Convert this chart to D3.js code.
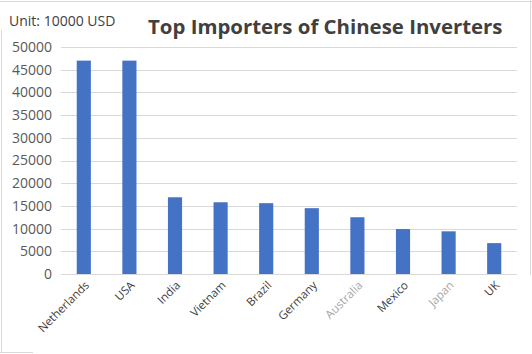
<!DOCTYPE html>
<html>
<head>
<meta charset="utf-8">
<script src="https://cdn.jsdelivr.net/npm/d3@7"></script>
<style>
 body { margin: 0; background: #fff; }
 text { font-family: "Open Sans", "Noto Sans", sans-serif; }
</style>
</head>
<body>
<div id="chart"></div>
<script>
(function(){
 // data (unit: 10000 USD)
 const countries = ["Netherlands", "USA", "India", "Vietnam", "Brazil", "Germany", "Australia", "Mexico", "Japan", "UK"];
 const imports = [47000, 47000, 16900, 15800, 15600, 14500, 12500, 9900, 9400, 6800];
 const yTicks = [0, 5000, 10000, 15000, 20000, 25000, 30000, 35000, 40000, 45000, 50000];
 const lightLabels = ["Australia", "Japan"];

 const width = 532;
 const height = 354;
 const margin = { top: 47, right: 15, bottom: 80, left: 61 };

 const svg = d3.select("#chart")
 .append("svg")
 .attr("width", width)
 .attr("height", height);

 // faint chart border
 const border = svg.append("g").attr("stroke", "#d9d9d9").attr("stroke-width", 1);
 border.append("line").attr("x1", 0).attr("x2", width).attr("y1", 1.5).attr("y2", 1.5);
 border.append("line").attr("x1", 1.5).attr("x2", 1.5).attr("y1", 30).attr("y2", 353);
 border.append("line").attr("x1", 530.5).attr("x2", 530.5).attr("y1", 0).attr("y2", 275);
 border.append("line").attr("x1", 0).attr("x2", 33).attr("y1", 352.5).attr("y2", 352.5);

 const x = d3.scaleBand()
 .domain(countries)
 .range([margin.left, width - margin.right])
 .paddingInner(0.69)
 .paddingOuter(0.345);

 const y = d3.scaleLinear()
 .domain([0, 50000])
 .range([height - margin.bottom, margin.top]);

 // gridlines
 svg.append("g")
 .selectAll("line")
 .data(yTicks)
 .enter().append("line")
 .attr("x1", margin.left)
 .attr("x2", width - margin.right)
 .attr("y1", d => Math.round(y(d)) + 0.5)
 .attr("y2", d => Math.round(y(d)) + 0.5)
 .attr("stroke", "#d9d9d9");

 // y axis labels
 const yAxis = svg.append("g")
 .attr("transform", `translate(${margin.left},0)`)
 .call(d3.axisLeft(y).tickValues(yTicks).tickSize(0).tickPadding(9).tickFormat(d3.format("d")));
 yAxis.select(".domain").remove();
 yAxis.selectAll("text")
 .attr("fill", "#595959")
 .style("font-size", "14px");

 // bars
 svg.append("g")
 .selectAll("rect")
 .data(countries)
 .enter().append("rect")
 .attr("x", d => x(d))
 .attr("width", x.bandwidth())
 .attr("y", (d, i) => y(imports[i]))
 .attr("height", (d, i) => y(0) - y(imports[i]))
 .attr("fill", "#4472c4");

 // x axis labels, rotated
 const xAxis = svg.append("g")
 .attr("transform", `translate(0,${y(0)})`)
 .call(d3.axisBottom(x).tickSize(0).tickPadding(0));
 xAxis.select(".domain").remove();
 xAxis.selectAll("text")
 .attr("text-anchor", "end")
 .attr("dy", 0)
 .attr("transform", "translate(6,12) rotate(-45)")
 .attr("fill", d => lightLabels.includes(d) ? "#a6a6a6" : "#404040")
 .style("font-size", "11.5px");

 // titles
 svg.append("text")
 .attr("x", 9)
 .attr("y", 26)
 .attr("fill", "#404040")
 .style("font-size", "14px")
 .text("Unit: 10000 USD");

 svg.append("text")
 .attr("x", 148)
 .attr("y", 34)
 .attr("fill", "#404040")
 .style("font-size", "20.4px")
 .style("font-weight", "bold")
 .text("Top Importers of Chinese Inverters");
})();
</script>
</body>
</html>
